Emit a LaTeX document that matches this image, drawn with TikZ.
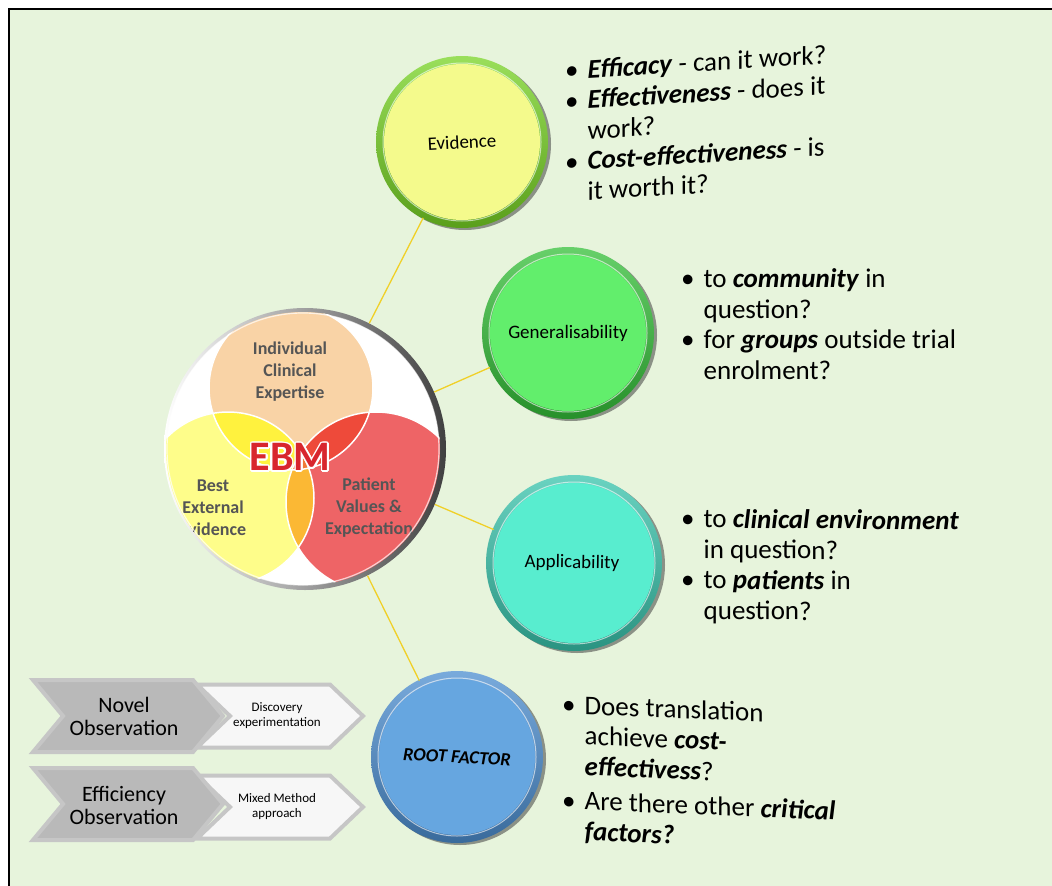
\documentclass[tikz,border=0pt]{standalone}
\usepackage{fontspec}
\setmainfont{Carlito}
\usepackage[copies]{contour}
\usetikzlibrary{positioning}

\definecolor{pagebg}{HTML}{E7F4DC}
\definecolor{linkyellow}{HTML}{F0D028}
\definecolor{evface}{HTML}{F4FA8C}
\definecolor{evrim}{HTML}{78D424}
\definecolor{genface}{HTML}{62EE6C}
\definecolor{genrim}{HTML}{34C038}
\definecolor{appface}{HTML}{58EDCF}
\definecolor{apprim}{HTML}{38C4AC}
\definecolor{rootface}{HTML}{66A6E0}
\definecolor{rootrim}{HTML}{4C8ED0}
\definecolor{vennorange}{HTML}{F9D3A6}
\definecolor{vennyellow}{HTML}{FEFD8A}
\definecolor{vennred}{HTML}{EE6466}
\definecolor{ovlOY}{HTML}{FFF23E}
\definecolor{ovlOR}{HTML}{EE4A3A}
\definecolor{ovlYR}{HTML}{FBB834}
\definecolor{ovlall}{HTML}{F07A36}
\definecolor{venngray}{HTML}{555555}
\definecolor{ebmred}{HTML}{D8262E}
\definecolor{chevgray}{HTML}{B9B9B9}

\newcommand{\kw}[1]{\textbf{\textit{#1}}}
% glossy disc: centre, radius, rim colour, face colour
\newcommand{\glossy}[4]{%
  \fill[black!75,opacity=.55,shift={(3,2)}] (#1) circle [radius=#2];
  \shade[top color=#3!75!white,bottom color=#3!75!black] (#1) circle [radius=#2];
  \fill[#4] (#1) circle [radius=#2-8];
  \draw[white,opacity=.6,line width=1pt] (#1) circle [radius=#2-7];
}
% chevron: left x, mid y, width, height, point depth
\newcommand{\chevron}[5]{%
  (#1,#2-#4/2) -- (#1+#3-#5,#2-#4/2) -- (#1+#3,#2) -- (#1+#3-#5,#2+#4/2)
  -- (#1,#2+#4/2) -- (#1+#5,#2) -- cycle}

\begin{document}
\begin{tikzpicture}[x=1pt,y=-1pt,
  link/.style={draw=linkyellow,line width=1.3pt},
  bubble/.style={circle,inner sep=0pt,minimum size=170pt,font=\fontsize{19}{22}\selectfont},
  bullets/.style={anchor=north west,inner sep=0pt,align=left,font=\fontsize{27}{30.5}\selectfont},
  venntxt/.style={align=center,text=venngray,font=\fontsize{18}{22}\selectfont\bfseries},
  chevtxt/.style={align=center,font=\fontsize{22}{23}\selectfont},
  smalltxt/.style={align=center,font=\fontsize{13}{15}\selectfont},
  bigchev/.style={fill=chevgray,draw=gray!45,line width=4pt,line join=miter},
  smallchev/.style={fill=gray!6,draw=gray!45,line width=4pt,line join=miter}]

\useasboundingbox (0,0) rectangle (1052,886);
\fill[white] (0,0) rectangle (1052,886);
\fill[pagebg] (9,9) rectangle (1052,886);
\draw[line width=2.2pt] (9,886) -- (9,9) -- (1052,9);

% EBM disc with the three circles
\shade[left color=white,right color=black!75] (305,449) circle [radius=141];
\fill[white] (303,449) circle [radius=136];
\def\orangecirc{(291,388) circle [radius=82]}
\def\yellowcirc{(228,498) circle [radius=86]}
\def\redcirc{(376,502) circle [radius=90]}
\begin{scope}
  \clip (303,449) circle [radius=137];
  \fill[vennorange] \orangecirc;
  \fill[vennyellow] \yellowcirc;
  \fill[vennred] \redcirc;
  \begin{scope} \clip \orangecirc; \fill[ovlOY] \yellowcirc; \end{scope}
  \begin{scope} \clip \orangecirc; \fill[ovlOR] \redcirc; \end{scope}
  \begin{scope} \clip \yellowcirc; \fill[ovlYR] \redcirc; \end{scope}
  \begin{scope} \clip \orangecirc; \clip \yellowcirc; \fill[ovlall] \redcirc; \end{scope}
  \draw[white,line width=1.5pt] \orangecirc \yellowcirc \redcirc;
  \node[venntxt] (expertise) at (290,372) {Individual\\Clinical\\Expertise};
  \node[venntxt] (external) at (213,508) {Best\\External\\Evidence};
  \node[venntxt] (values) at (369,508) {Patient\\Values \&\\Expectation};
\end{scope}
\draw[white,opacity=.7,line width=1.2pt] (303,449) circle [radius=136];
\node[circle,inner sep=0pt,minimum size=282pt] (ebm) at (305,449) {};
\node[text=ebmred,font=\fontsize{42}{42}\selectfont\bfseries] (ebmlabel) at (290,458)
  {\contourlength{1.6pt}\contour{white}{EBM}};

% the four discs
\glossy{462,142}{86}{evrim}{evface}
\glossy{568,333}{86}{genrim}{genface}
\glossy{574,563}{88}{apprim}{appface}
\glossy{457,757}{86}{rootrim}{rootface}
\node[bubble,rotate=3] (ev) at (462,142) {Evidence};
\node[bubble] (gen) at (568,333) {Generalisability};
\node[bubble,rotate=-1] (app) at (572,563) {Applicability};
\node[bubble,rotate=-3,font=\fontsize{18.5}{20}\selectfont\bfseries\itshape] (root) at (457,757) {ROOT FACTOR};

\draw[link] (ebm) -- (ev);
\draw[link] (ebm) -- (gen);
\draw[link] (ebm) -- (app);
\draw[link] (ebm) -- (root);

% questions beside each disc
\node[bullets,yslant=0.06] (evlist) at (565,58) {%
  \begin{tabular}{@{}l@{\hspace{9pt}}l@{}}
  \textbullet & \kw{Efficacy} - can it work?\\
  \textbullet & \kw{Effectiveness} - does it\\
              & work?\\
  \textbullet & \kw{Cost-effectiveness} - is\\
              & it worth it?
  \end{tabular}};
\node[bullets] (genlist) at (681,266) {%
  \begin{tabular}{@{}l@{\hspace{9pt}}l@{}}
  \textbullet & to \kw{community} in\\
              & question?\\
  \textbullet & for \kw{groups} outside trial\\
              & enrolment?
  \end{tabular}};
\node[bullets,yslant=-0.008] (applist) at (681,506) {%
  \begin{tabular}{@{}l@{\hspace{9pt}}l@{}}
  \textbullet & to \kw{clinical environment}\\
              & in question?\\
  \textbullet & to \kw{patients} in\\
              & question?
  \end{tabular}};
\node[bullets,yslant=-0.04] (rootlist) at (562,692) {%
  \begin{tabular}{@{}l@{\hspace{9pt}}l@{}}
  \textbullet & Does translation\\
              & achieve \kw{cost-}\\
              & \kw{effectivess}?\\[4pt]
  \textbullet & Are there other \kw{critical}\\
              & \kw{factors?}
  \end{tabular}};

% observation chevrons
\filldraw[smallchev] \chevron{197}{716}{166}{63}{33};
\filldraw[smallchev] \chevron{197}{807}{166}{63}{33};
\filldraw[bigchev] \chevron{33}{716}{190}{72}{30};
\filldraw[bigchev] \chevron{33}{804}{190}{72}{30};
\node[chevtxt] (novel) at (124,716) {Novel\\Observation};
\node[chevtxt] (efficiency) at (124,805) {Efficiency\\Observation};
\node[smalltxt] (discovery) at (277,716) {Discovery\\experimentation};
\node[smalltxt] (mixed) at (277,807) {Mixed Method\\approach};
\end{tikzpicture}
\end{document}
